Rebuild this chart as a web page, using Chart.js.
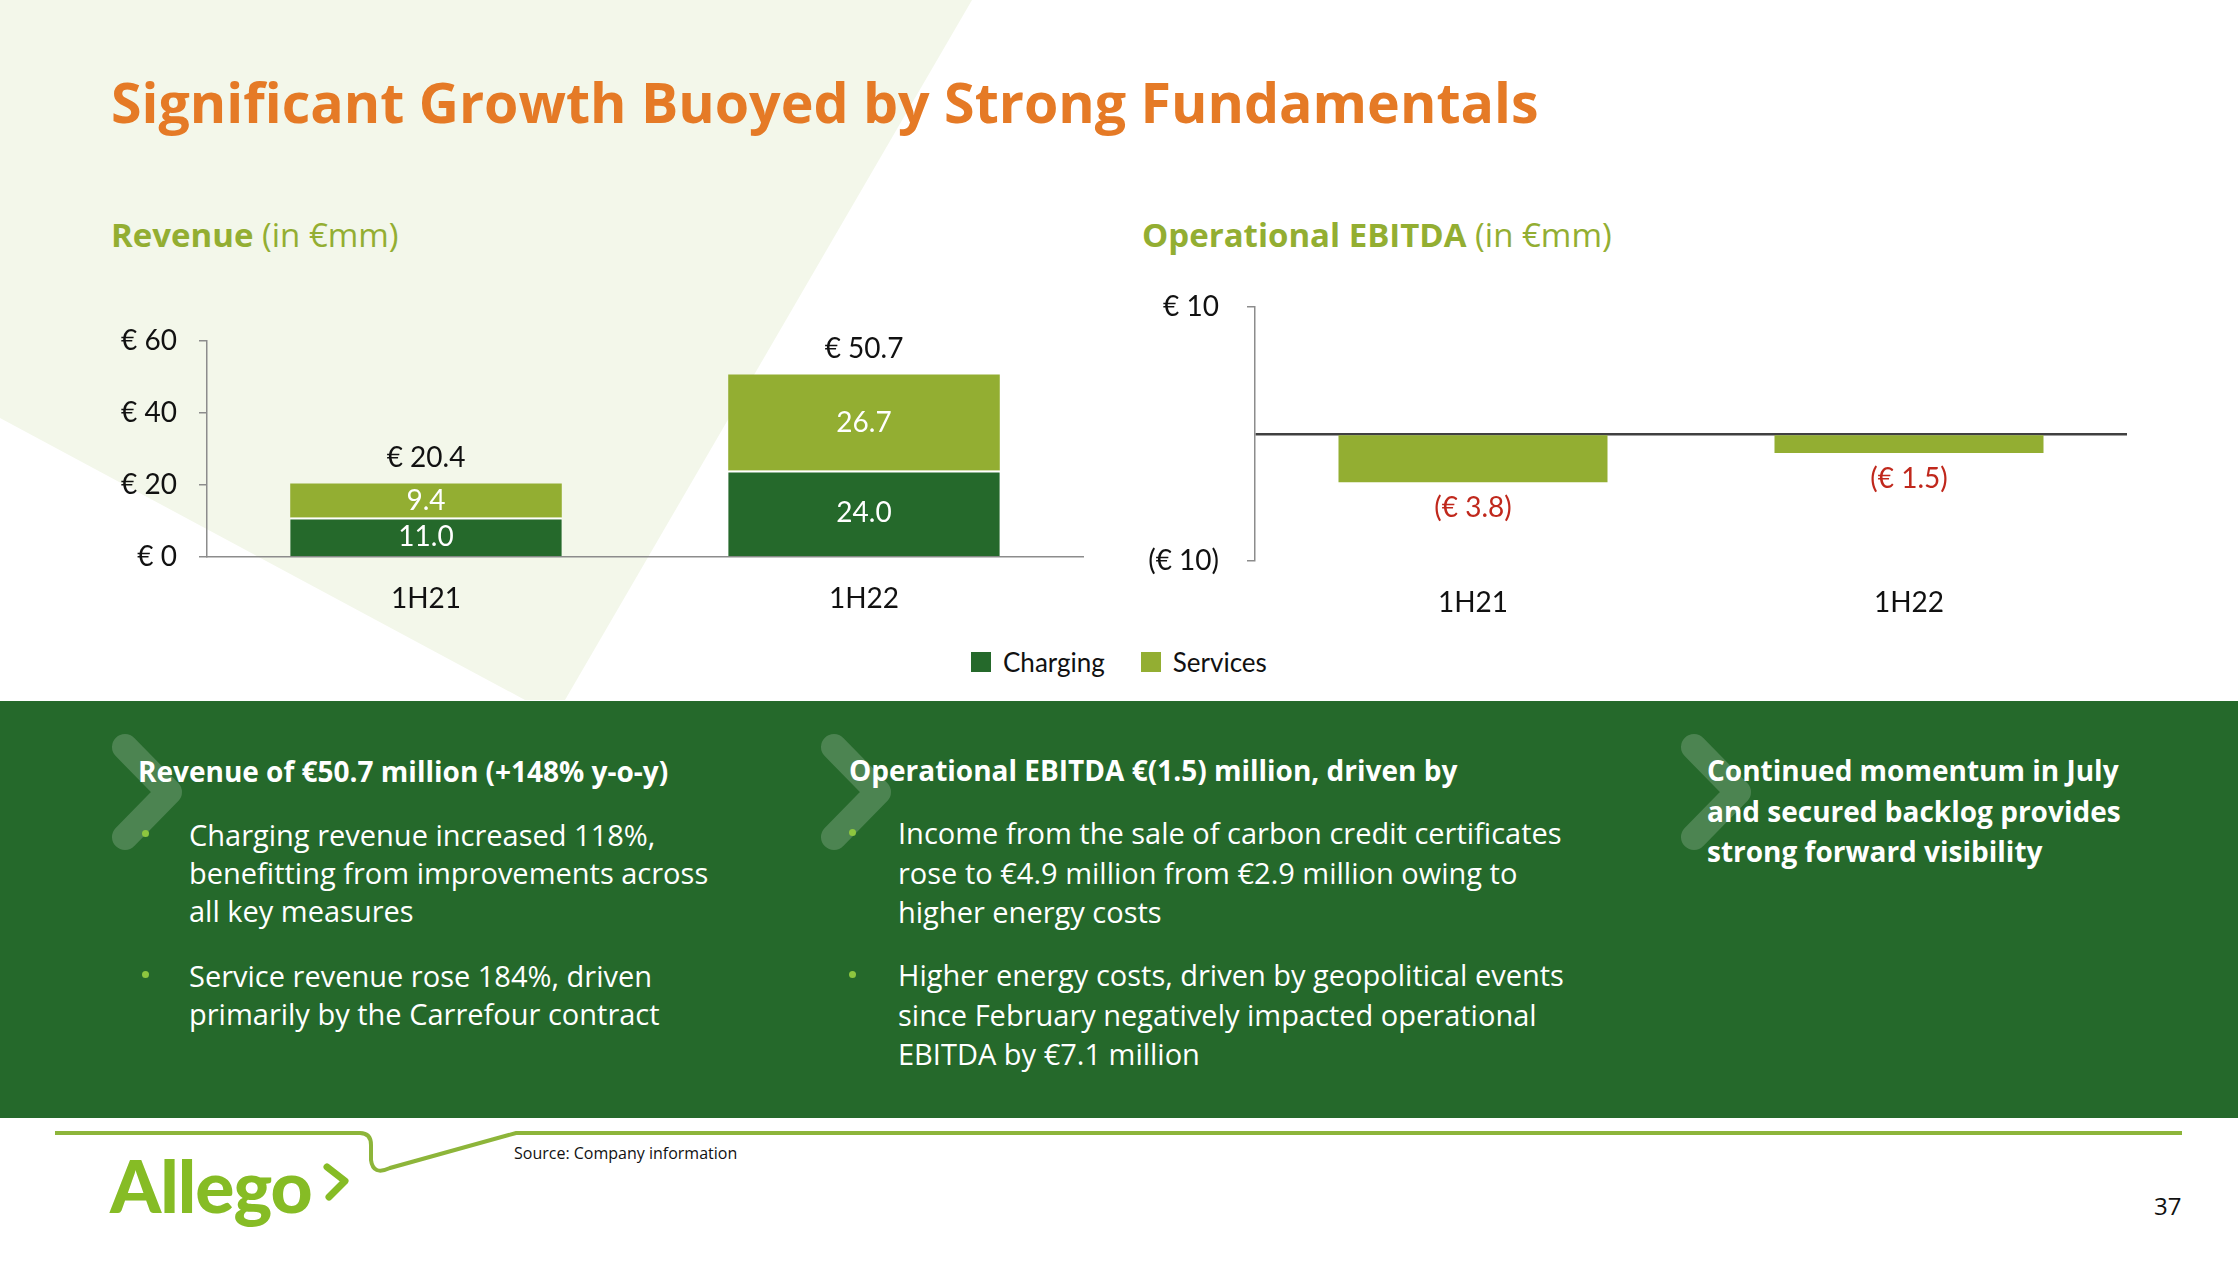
<!DOCTYPE html>
<html>
<head>
<meta charset="utf-8">
<script src="https://cdn.jsdelivr.net/npm/chart.js@4.4.1/dist/chart.umd.min.js"></script>
<style>
  html, body { margin: 0; padding: 0; }
  body {
    width: 2238px; height: 1261px; position: relative; overflow: hidden;
    background: #fff; font-family: "Open Sans", Lato, sans-serif; color: #111;
  }
  .abs { position: absolute; white-space: nowrap; }
  .title { left: 111px; top: 74px; font-size: 55.5px; line-height: 55.5px; font-weight: 700; color: #E57A26; }
  .sub { font-size: 33px; line-height: 33px; color: #93AE32; }
  .sub b { font-weight: 700; }
  .panel { color: #fff; font-size: 29px; }
  .panel .head { font-weight: 700; font-size: 28px; line-height: 28px; }
  .panel .body { line-height: 38px; }
  .dot { position: absolute; width: 7px; height: 7px; border-radius: 50%; background: #8DC63F; }
  #legend { left: 971px; top: 647px; display: flex; align-items: center; font-family: Lato, sans-serif; font-size: 26px; line-height: 30px; }
  #legend span.sw { display: inline-block; width: 20px; height: 20px; margin-right: 12px; }
  #legend span.item { display: flex; align-items: center; margin-right: 36px; }
</style>
</head>
<body>

<svg class="abs" style="left:0;top:0" width="2238" height="1261">
  <path d="M0,0 L972,0 L565,700 L525,700 L0,418 Z" fill="#F3F7EA"/>
  <rect x="0" y="701" width="2238" height="417" fill="#25692B"/>
  <g fill="none" stroke="rgba(255,255,255,0.18)" stroke-width="26" stroke-linecap="round" stroke-linejoin="round">
    <polyline points="125,747 169,792 125,837"/>
    <polyline points="834,747 878,792 834,837"/>
    <polyline points="1694,747 1738,792 1694,837"/>
  </g>
  <path d="M55,1133 L360,1133 Q371,1133 371,1145 L371,1160 Q373,1176 390,1168 L516,1133 L2182,1133"
        fill="none" stroke="#8DB53A" stroke-width="4"/>
  <polyline points="327,1167 345,1181 329,1197" fill="none" stroke="#86BC25" stroke-width="7" stroke-linecap="round" stroke-linejoin="round"/>
</svg>

<div class="abs title">Significant Growth Buoyed by Strong Fundamentals</div>
<div class="abs sub" style="left:111px;top:218px"><b>Revenue</b> (in €mm)</div>
<div class="abs sub" style="left:1142px;top:218px"><b>Operational EBITDA</b> (in €mm)</div>

<canvas id="revenueChart" class="abs" style="left:100px;top:300px" width="1000" height="340"></canvas>
<canvas id="ebitdaChart" class="abs" style="left:1130px;top:262px" width="1020" height="367"></canvas>
<div id="legend" class="abs"></div>

<div class="panel">
  <div class="abs head" style="left:138px;top:757px">Revenue of €50.7 million (+148% y-o-y)</div>
  <div class="dot" style="left:142px;top:830px"></div>
  <div class="abs body" style="left:189px;top:816px">Charging revenue increased 118%,<br>benefitting from improvements across<br>all key measures</div>
  <div class="dot" style="left:142px;top:971px"></div>
  <div class="abs body" style="left:189px;top:957px">Service revenue rose 184%, driven<br>primarily by the Carrefour contract</div>

  <div class="abs head" style="left:849px;top:756px">Operational EBITDA €(1.5) million, driven by</div>
  <div class="dot" style="left:849px;top:829px"></div>
  <div class="abs body" style="left:898px;top:813px;line-height:39.5px">Income from the sale of carbon credit certificates<br>rose to €4.9 million from €2.9 million owing to<br>higher energy costs</div>
  <div class="dot" style="left:849px;top:971px"></div>
  <div class="abs body" style="left:898px;top:955px;line-height:39.5px">Higher energy costs, driven by geopolitical events<br>since February negatively impacted operational<br>EBITDA by €7.1 million</div>

  <div class="abs head" style="left:1707px;top:750px;line-height:40.5px">Continued momentum in July<br>and secured backlog provides<br>strong forward visibility</div>
</div>

<div class="abs" style="left:514px;top:1144px;font-size:16px;line-height:18px">Source: Company information</div>
<div class="abs" style="left:110px;top:1145px;font-family:Lato,sans-serif;font-size:73px;line-height:80px;font-weight:900;color:#86BC25;letter-spacing:-1px">Allego</div>
<div class="abs" style="left:2154px;top:1192px;font-size:24px;line-height:28px">37</div>

<script>
// DATA
const categories = ["1H21", "1H22"];
const seriesNames = ["Charging", "Services"];
const charging = [11.0, 24.0];
const services = [9.4, 26.7];
const revenueTicks = [0, 20, 40, 60];
const ebitda = [-3.8, -1.5];
const ebitdaTicks = [-10, 0, 10];

const DARK = "#25692B";
const OLIVE = "#93AE32";
const AXIS = "#8C8C8C";
const FONT = "Lato";

// LEGEND
const legend = document.getElementById("legend");
[DARK, OLIVE].forEach((c, i) => {
  const item = document.createElement("span");
  item.className = "item";
  item.innerHTML = `<span class="sw" style="background:${c}"></span>${seriesNames[i]}`;
  legend.appendChild(item);
});

// REVENUE
const revenueLabels = {
  id: "revenueLabels",
  afterDatasetsDraw(chart) {
    const { ctx } = chart;
    ctx.save();
    ctx.font = `28px ${FONT}`;
    ctx.textAlign = "center";
    ctx.textBaseline = "middle";
    ctx.fillStyle = "#fff";
    chart.data.datasets.forEach((ds, d) => {
      chart.getDatasetMeta(d).data.forEach((bar, i) => {
        ctx.fillText(ds.data[i].toFixed(1), bar.x, (bar.y + bar.base) / 2);
      });
    });
    ctx.fillStyle = "#111";
    const y = chart.scales.y;
    chart.getDatasetMeta(1).data.forEach((bar, i) => {
      const total = charging[i] + services[i];
      ctx.fillText(`€ ${total.toFixed(1)}`, bar.x, y.getPixelForValue(total) - 26);
    });
    ctx.restore();
  },
};

new Chart(document.getElementById("revenueChart"), {
  type: "bar",
  data: {
    labels: categories,
    datasets: [
      { label: seriesNames[0], data: charging, backgroundColor: DARK,
        borderColor: "#fff", borderWidth: { top: 2, left: 0, right: 0, bottom: 0 } },
      { label: seriesNames[1], data: services, backgroundColor: OLIVE },
    ],
  },
  options: {
    responsive: false,
    animation: false,
    layout: { padding: { top: 41, right: 17, left: 0, bottom: 0 } },
    categoryPercentage: 1,
    barPercentage: 0.62,
    plugins: { legend: { display: false }, tooltip: { enabled: false } },
    scales: {
      x: {
        stacked: true,
        grid: { display: false, drawTicks: false },
        border: { display: true, color: AXIS, width: 1.5 },
        ticks: { padding: 25, color: "#111", font: { family: FONT, size: 28 } },
        afterFit: (s) => { s.height = 83; },
      },
      y: {
        stacked: true,
        min: revenueTicks[0],
        max: revenueTicks[revenueTicks.length - 1],
        afterBuildTicks: (s) => { s.ticks = revenueTicks.map((v) => ({ value: v })); },
        grid: { drawOnChartArea: false, drawTicks: true, tickLength: 8, color: AXIS, lineWidth: 1.5 },
        border: { display: true, color: AXIS, width: 1.5 },
        ticks: { padding: 22, color: "#111", font: { family: FONT, size: 28 }, callback: (v) => `€ ${v}` },
        afterFit: (s) => { s.width = 107; },
      },
    },
  },
  plugins: [revenueLabels],
});

// EBITDA
const ebitdaLabels = {
  id: "ebitdaLabels",
  afterDatasetsDraw(chart) {
    const { ctx } = chart;
    ctx.save();
    ctx.font = `28px ${FONT}`;
    ctx.textAlign = "center";
    ctx.textBaseline = "middle";
    ctx.fillStyle = "#C0281C";
    chart.getDatasetMeta(0).data.forEach((bar, i) => {
      const v = ebitda[i];
      ctx.fillText(`(€ ${Math.abs(v).toFixed(1)})`, bar.x, bar.y + 26);
    });
    ctx.restore();
  },
};

new Chart(document.getElementById("ebitdaChart"), {
  type: "bar",
  data: {
    labels: categories,
    datasets: [{ label: "Operational EBITDA", data: ebitda, backgroundColor: OLIVE }],
  },
  options: {
    responsive: false,
    animation: false,
    // the top gap comes from the y tick label height + padding (~45px)
    layout: { padding: { top: 0, right: 23, left: 0, bottom: 0 } },
    categoryPercentage: 1,
    barPercentage: 0.617,
    plugins: { legend: { display: false }, tooltip: { enabled: false } },
    scales: {
      x: {
        grid: { display: false, drawTicks: false },
        border: { display: false },
        ticks: { padding: 25, color: "#111", font: { family: FONT, size: 28 } },
        afterFit: (s) => { s.height = 68; },
      },
      y: {
        min: ebitdaTicks[0],
        max: ebitdaTicks[ebitdaTicks.length - 1],
        afterBuildTicks: (s) => { s.ticks = ebitdaTicks.map((v) => ({ value: v })); },
        grid: {
          drawOnChartArea: true,
          drawTicks: true,
          tickLength: 8,
          color: (c) => (c.tick && c.tick.value === 0 ? "#404040" : "rgba(0,0,0,0)"),
          tickColor: (c) => (c.tick && c.tick.value === 0 ? "rgba(0,0,0,0)" : AXIS),
          lineWidth: (c) => (c.tick && c.tick.value === 0 ? 2.5 : 1.5),
        },
        border: { display: true, color: AXIS, width: 1.5 },
        ticks: {
          padding: 28,
          color: "#111",
          font: { family: FONT, size: 28 },
          callback: (v) => (v === 0 ? "" : v > 0 ? `€ ${v}` : `(€ ${Math.abs(v)})`),
        },
        afterFit: (s) => { s.width = 125; },
      },
    },
  },
  plugins: [ebitdaLabels],
});
</script>
</body>
</html>
